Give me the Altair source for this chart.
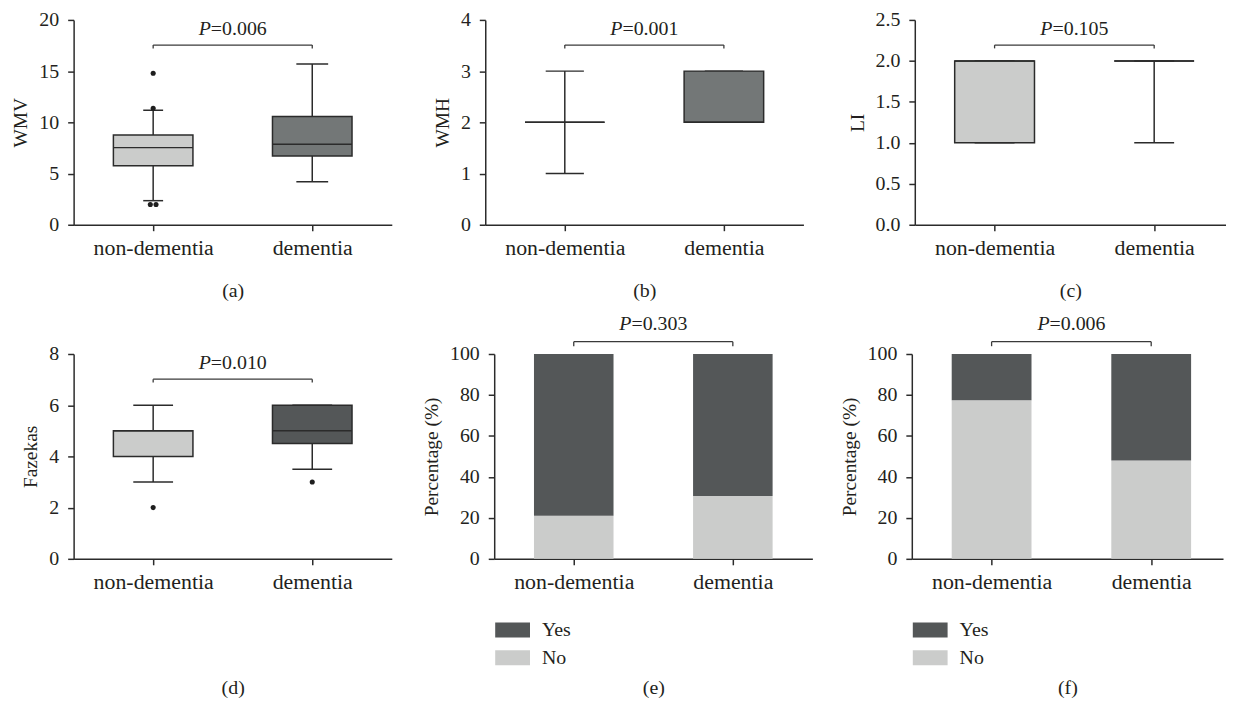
import altair as alt
import pandas as pd

groups = ["non-dementia", "dementia"]

# box plots: [lower whisker, Q1, median, Q3, upper whisker] per group
wmv_box = [[2.35, 5.75, 7.53, 8.76, 11.18], [4.2, 6.72, 7.85, 10.56, 15.7]]
wmv_outliers = [[14.8, 11.37, 1.97, 1.97], []]
wmh_box = [[1, 2, 2, 2, 3], [2, 2, 2, 3, 3]]
wmh_outliers = [[], []]
li_box = [[1, 1, 2, 2, 2], [1, 2, 2, 2, 2]]
li_outliers = [[], []]
fazekas_box = [[3, 4, 5, 5, 6], [3.5, 4.5, 5, 6, 6]]
fazekas_outliers = [[2], [3]]

# stacked percentages
no_e = [21.0, 30.7]
yes_e = [79.0, 69.3]
no_f = [77.4, 48.0]
yes_f = [22.6, 52.0]
responses = ["Yes", "No"]

p_values = ["0.006", "0.001", "0.105", "0.010", "0.303", "0.006"]
captions = ["(a)", "(b)", "(c)", "(d)", "(e)", "(f)"]

FONT = "Liberation Serif"
LIGHT = "#cbcccb"
MID = "#737777"
DARK = "#545758"
INK = "#2b2b2b"
TXT = "#231f20"
H = 206
FULL = (320, 1.5)    # width, right end of x domain
EDGE = (313, 1.45)   # right-most panels, cut at the page edge as in the reference

label_expr = f"datum.value == 0 ? '{groups[0]}' : '{groups[1]}'"


def x_axis(caption, pad):
    return alt.Axis(values=[0, 1], labelExpr=label_expr, title=caption,
                    titlePadding=pad, labelFlush=False, grid=False)


def p_layers(xs, xa, ys, ya, pval, ymax, br, drop, ty):
    br_df = pd.DataFrame({"x": [0], "x2": [1], "y": [br * ymax]})
    ends_df = pd.DataFrame({"x": [0, 1], "y": [br * ymax] * 2, "y2": [(br - drop) * ymax] * 2})
    t_df = pd.DataFrame({"x": [0.5], "y": [ty * ymax], "p": ["P"], "v": ["=" + pval]})
    bracket = alt.Chart(br_df).mark_rule(color="#3a3a3a", strokeWidth=1.3).encode(
        x=alt.X("x:Q", scale=xs, axis=xa), x2="x2:Q",
        y=alt.Y("y:Q", scale=ys, axis=ya))
    ends = alt.Chart(ends_df).mark_rule(color="#3a3a3a", strokeWidth=1.3).encode(
        x=alt.X("x:Q", scale=xs, axis=xa),
        y=alt.Y("y:Q", scale=ys, axis=ya), y2="y2:Q")
    tp = alt.Chart(t_df).mark_text(font=FONT, fontSize=20, fontStyle="italic", align="right",
                                   baseline="middle", dx=-22, color=TXT).encode(
        x=alt.X("x:Q", scale=xs, axis=xa), y=alt.Y("y:Q", scale=ys, axis=ya), text="p:N")
    tv = alt.Chart(t_df).mark_text(font=FONT, fontSize=20, align="left",
                                   baseline="middle", dx=-22, color=TXT).encode(
        x=alt.X("x:Q", scale=xs, axis=xa), y=alt.Y("y:Q", scale=ys, axis=ya), text="v:N")
    return [bracket, ends, tp, tv]


def box_panel(ylabel, box, outliers, ymax, step, fmt, fills, caps, pval, caption, cap_pad, geom=FULL):
    w, xmax = geom
    xs = alt.Scale(domain=[-0.5, xmax], nice=False, zero=False)
    ys = alt.Scale(domain=[0, ymax], nice=False, zero=True)
    ticks = [round(i * step, 3) for i in range(int(round(ymax / step)) + 1)]
    df = pd.DataFrame({
        "pos": [0, 1],
        "low": [b[0] for b in box], "q1": [b[1] for b in box], "med": [b[2] for b in box],
        "q3": [b[3] for b in box], "high": [b[4] for b in box],
        "fill": fills, "cap": caps,
    })
    df["left"] = df["pos"] - 0.25
    df["right"] = df["pos"] + 0.25
    df["capl"] = df["pos"] - df["cap"]
    df["capr"] = df["pos"] + df["cap"]
    rows = []
    for gi, vals in enumerate(outliers):
        counts = {}
        for v in vals:
            counts[v] = counts.get(v, 0) + 1
        seen = {}
        for v in vals:
            n = counts[v]
            k = seen.get(v, 0)
            seen[v] = k + 1
            rows.append({"x": gi + (k - (n - 1) / 2) * 0.036, "y": v})

    xa = x_axis(caption, cap_pad)
    ya = alt.Axis(title=ylabel, values=ticks, format=fmt, grid=False)
    base = alt.Chart(df)
    whisk = base.mark_rule(color=INK, strokeWidth=1.5).encode(
        x=alt.X("pos:Q", scale=xs, axis=xa),
        y=alt.Y("low:Q", scale=ys, axis=ya), y2="high:Q")
    cap_lo = base.mark_rule(color=INK, strokeWidth=1.5).encode(
        x=alt.X("capl:Q", scale=xs, axis=xa), x2="capr:Q",
        y=alt.Y("low:Q", scale=ys, axis=ya))
    cap_hi = base.mark_rule(color=INK, strokeWidth=1.5).encode(
        x=alt.X("capl:Q", scale=xs, axis=xa), x2="capr:Q",
        y=alt.Y("high:Q", scale=ys, axis=ya))
    rect = base.mark_rect(stroke=INK, strokeWidth=1.5).encode(
        x=alt.X("left:Q", scale=xs, axis=xa), x2="right:Q",
        y=alt.Y("q1:Q", scale=ys, axis=ya), y2="q3:Q",
        fill=alt.Fill("fill:N", scale=None))
    med = base.mark_rule(color=INK, strokeWidth=1.5).encode(
        x=alt.X("left:Q", scale=xs, axis=xa), x2="right:Q",
        y=alt.Y("med:Q", scale=ys, axis=ya))
    layers = [whisk, cap_lo, cap_hi, rect, med]
    if rows:
        pts = alt.Chart(pd.DataFrame(rows)).mark_circle(size=26, color="#1e1e1e", opacity=1).encode(
            x=alt.X("x:Q", scale=xs, axis=xa), y=alt.Y("y:Q", scale=ys, axis=ya))
        layers.append(pts)
    layers += p_layers(xs, xa, ys, ya, pval, ymax, 0.877, 0.016, 0.955)
    return alt.layer(*layers).properties(width=w, height=H)


def bar_panel(no_vals, yes_vals, pval, caption, cap_pad, geom=FULL):
    w, xmax = geom
    xs = alt.Scale(domain=[-0.5, xmax], nice=False, zero=False)
    ys = alt.Scale(domain=[0, 100], nice=False, zero=True)
    rows = []
    for i in range(2):
        rows.append({"pos": i, "resp": responses[1], "y0": 0, "y1": no_vals[i]})
        rows.append({"pos": i, "resp": responses[0], "y0": no_vals[i], "y1": no_vals[i] + yes_vals[i]})
    df = pd.DataFrame(rows)
    df["left"] = df["pos"] - 0.25
    df["right"] = df["pos"] + 0.25
    xa = x_axis(caption, cap_pad)
    ya = alt.Axis(title="Percentage (%)", values=[0, 20, 40, 60, 80, 100], grid=False)
    bars = alt.Chart(df).mark_rect().encode(
        x=alt.X("left:Q", scale=xs, axis=xa), x2="right:Q",
        y=alt.Y("y0:Q", scale=ys, axis=ya),
        y2="y1:Q",
        color=alt.Color("resp:N", scale=alt.Scale(domain=responses, range=[DARK, LIGHT]),
                        legend=alt.Legend(title=None, orient="none", legendX=1, legendY=260,
                                          symbolType="M-1,-0.43H1V0.43H-1Z", symbolSize=1225,
                                          symbolStrokeWidth=0, labelFont=FONT, labelFontSize=20,
                                          labelColor=TXT, labelOffset=12, rowPadding=0, padding=0)))
    layers = [bars] + p_layers(xs, xa, ys, ya, pval, 100, 1.06, 0.022, 1.145)
    return alt.layer(*layers).properties(width=w, height=H)


pa = box_panel("WMV", wmv_box, wmv_outliers, 20, 5, "d", [LIGHT, MID], [0.0625, 0.1], p_values[0], captions[0], 22)
pb = box_panel("WMH", wmh_box, wmh_outliers, 4, 1, "d", [LIGHT, MID], [0.12, 0.12], p_values[1], captions[1], 22)
pc = box_panel("LI", li_box, li_outliers, 2.5, 0.5, ".1f", [LIGHT, LIGHT], [0.125, 0.125], p_values[2], captions[2], 22, EDGE)
pd_ = box_panel("Fazekas", fazekas_box, fazekas_outliers, 8, 2, "d", [LIGHT, DARK], [0.125, 0.125], p_values[3], captions[3], 85)
pe = bar_panel(no_e, yes_e, p_values[4], captions[4], 85)
pf = bar_panel(no_f, yes_f, p_values[5], captions[5], 85, EDGE)

row1 = alt.hconcat(pa, alt.hconcat(pb, pc, spacing=44), spacing=41)
row2 = alt.hconcat(pd_, alt.hconcat(pe, pf, spacing=27).resolve_scale(color="independent"),
                   spacing=30).resolve_scale(color="independent")

chart = alt.vconcat(row1, row2, spacing=14).resolve_scale(color="independent").properties(
    background="white",
    padding={"left": 3, "top": 0, "right": 0, "bottom": 0},
).configure_view(
    stroke=None
).configure_axis(
    domainColor=INK, domainWidth=1.5, tickColor=INK, tickWidth=1.5, tickSize=6,
    labelFont=FONT, titleFont=FONT, labelColor=TXT, titleColor=TXT,
    titleFontWeight="normal", labelPadding=9, grid=False
).configure_axisX(
    labelFontSize=22, titleFontSize=20, labelPadding=7
).configure_axisY(
    labelFontSize=20, titleFontSize=19.5, titlePadding=8
)

chart.save("out.html", embed_options={"renderer": "svg", "actions": False})
